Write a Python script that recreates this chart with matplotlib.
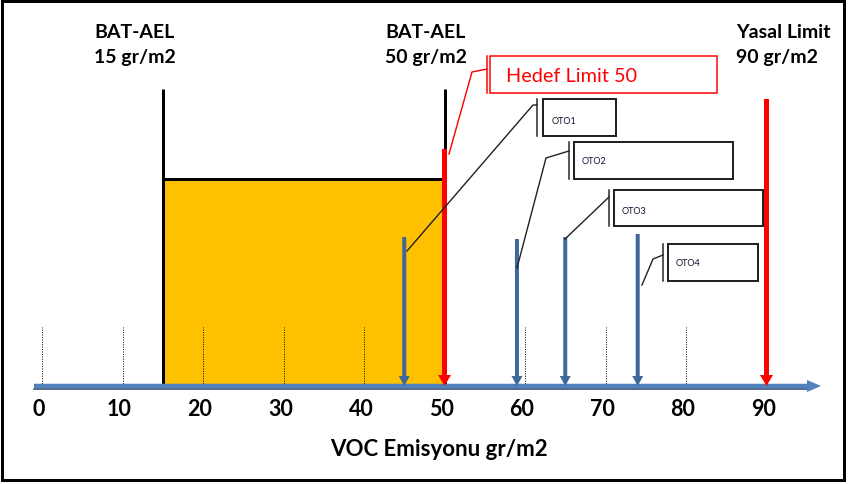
import matplotlib
matplotlib.use("Agg")
import matplotlib.pyplot as plt
from matplotlib.patches import Rectangle

# ---- data ----
tick_values = [0, 10, 20, 30, 40, 50, 60, 70, 80, 90]
tick_labels = ["0", "10", "20", "30", "40", "50", "60", "70", "80", "90"]
bat_ael = [15, 50]
bat_ael_labels = ["BAT-AEL\n15 gr/m2", "BAT-AEL\n50 gr/m2"]
hedef_limit = 50
yasal_limit = 90
oto_names = ["OTO1", "OTO2", "OTO3", "OTO4"]
oto_values = [45, 59, 65, 74]
x_label = "VOC Emisyonu gr/m2"

# ---- pixel helpers (layout only) ----
W, H = 849, 485
X0, SX, Y0 = 42, 8.05, 387
def dx(px): return (px - X0) / SX
def dy(py): return Y0 - py
def P(px, py): return (dx(px), dy(py))
def pt(px): return px * 72 / 100.0

FONT = "Lato"
BLUE = "#41669A"
AXBLUE = "#4F81BD"
RED = "#FF0000"

fig = plt.figure(figsize=(8.49, 4.85), dpi=100)
ax = fig.add_axes([0, 0, 1, 1])
ax.set_xlim(dx(0), dx(W))
ax.set_ylim(dy(H), dy(0))
ax.axis("off")

# frame
ax.add_patch(Rectangle(P(2, 481), dx(844) - dx(2), dy(2) - dy(481), fill=False,
                       ec="black", lw=pt(3), zorder=1))

# BAT-AEL band
ax.add_patch(Rectangle((bat_ael[0], 0), bat_ael[1] - bat_ael[0], dy(180),
                       fc="#FFC000", ec="none", zorder=2))
ax.plot(bat_ael, [dy(180)] * 2, color="black", lw=pt(3), zorder=3, solid_capstyle="butt")
ax.vlines(bat_ael, 0, dy(90), colors="black", lw=pt(3), zorder=3)

# dotted gridlines
ax.vlines(tick_values, 0, dy(328), colors="black", linestyles=(0, (1, 1.5)), lw=0.7, zorder=3)

def arrow(x0, y0, x1, y1, color, tail, hw, hl, z=5):
    ax.annotate("", xy=(x1, y1), xytext=(x0, y0),
                arrowprops=dict(arrowstyle=f"simple,head_length={pt(hl)},head_width={pt(hw)},tail_width={pt(tail)}",
                                fc=color, ec="none", lw=0, shrinkA=0, shrinkB=0, mutation_scale=1),
                zorder=z)

# x axis arrow
ax.plot([dx(34), dx(808)], [dy(389.5)] * 2, color="#1F3A5F", lw=pt(1.5), zorder=4)
arrow(dx(34), dy(387), dx(821), dy(387), AXBLUE, 4.5, 12, 14, z=4)

# OTO arrows
oto_tops = [238, 240, 238, 235]
for v, t in zip(oto_values, oto_tops):
    arrow(v, dy(t), v, 0, BLUE, 4, 11, 10, z=5)

# red limit arrows
arrow(hedef_limit, dy(150), hedef_limit, 0, RED, 5, 13, 11, z=6)
arrow(yasal_limit, dy(100), yasal_limit, 0, RED, 5, 13, 11, z=6)

# tick labels
for v, lab in zip(tick_values, tick_labels):
    ax.text(v - 3 / SX, dy(410), lab, ha="center", va="center", fontsize=15.5,
            fontweight="bold", family=FONT, zorder=7)

# top labels
top_texts = [(94, bat_ael_labels[0]), (385, bat_ael_labels[1]),
             (736, f"Yasal Limit\n{yasal_limit} gr/m2")]
for px, txt in top_texts:
    l1, l2 = txt.split("\n")
    ax.text(dx(px), dy(38), l1, ha="left", va="baseline", fontsize=14,
            fontweight="bold", family=FONT)
    ax.text(dx(px), dy(63), l2, ha="left", va="baseline", fontsize=14,
            fontweight="bold", family=FONT)

ax.text(dx(439), dy(450), x_label, ha="center", va="center", fontsize=16,
        fontweight="bold", family=FONT)

# callouts
def callout(box, bar_x, leader, text, tx, ty, color, fs, lw_box):
    x0, y0, x1, y1 = box
    ax.add_patch(Rectangle(P(x0, y1), dx(x1) - dx(x0), dy(y0) - dy(y1), fill=False,
                           ec=color, lw=lw_box, zorder=8))
    ax.plot([dx(bar_x)] * 2, [dy(y0), dy(y1)], color=color, lw=pt(1.5), zorder=8)
    xs = [dx(p[0]) for p in leader]
    ys = [dy(p[1]) for p in leader]
    ax.plot(xs, ys, color=color, lw=pt(1.4), zorder=8)
    ax.text(dx(tx), dy(ty), text, ha="left", va="center", fontsize=fs, color=color
            if color == RED else "#111133", family=FONT, zorder=9)

callout((490, 57, 717, 94), 487, [(449, 155), (472, 73), (487, 70)],
        f"Hedef Limit {hedef_limit}", 506, 77, RED, 14.3, pt(1.5))
oto_layout = [
    ((543, 100, 616, 137), 537, [(407, 252), (533, 106), (537, 106)], 552, 122),
    ((574, 143, 733, 180), 569, [(517, 269), (546, 159), (569, 152)], 582, 162),
    ((614, 191, 763, 227), 609, [(565, 240), (609, 198)], 622, 211),
    ((668, 245, 758, 282), 663, [(642, 286), (653, 260), (663, 256)], 676, 264),
]
for name, (box, bx, lead, tx, ty) in zip(oto_names, oto_layout):
    callout(box, bx, lead, name, tx, ty, "#222222", 6.5, pt(2))

fig.savefig("out.png", dpi=100)
